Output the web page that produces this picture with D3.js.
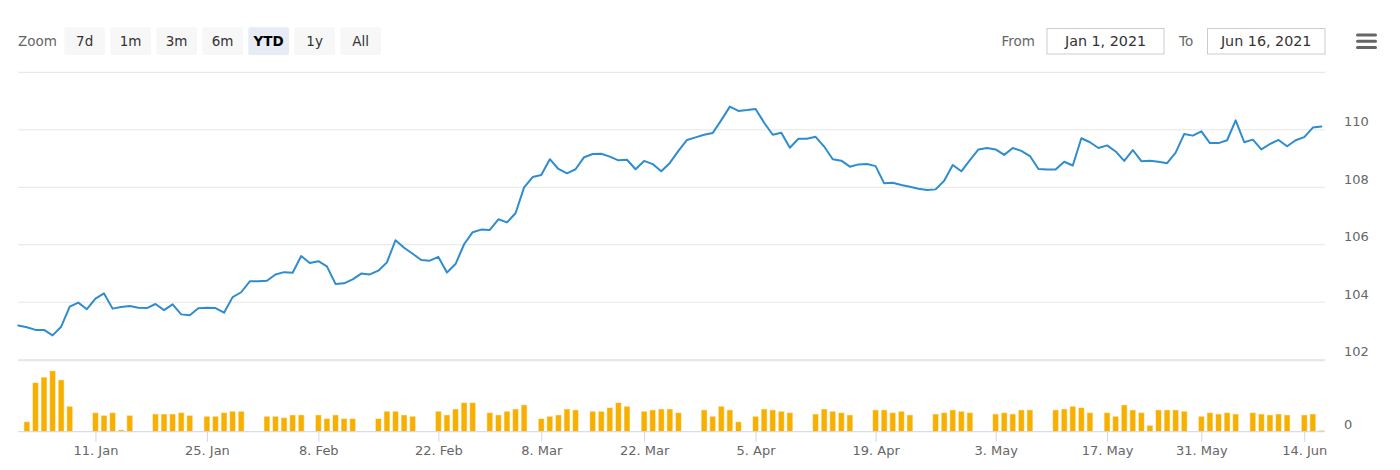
<!DOCTYPE html>
<html><head><meta charset="utf-8">
<script src="https://cdn.jsdelivr.net/npm/d3@7"></script>
<style>
body{margin:0;background:#fff}
svg{display:block}
text{font-family:"DejaVu Sans",sans-serif}
</style>
</head><body>
<svg id="c" width="1400" height="470"></svg>
<script>
// ---- data ----
const prices = [
103.17,103.11,103.02,103.02,102.83,103.13,103.83,103.97,103.74,104.11,
104.29,103.76,103.82,103.85,103.79,103.78,103.92,103.71,103.91,103.56,
103.53,103.77,103.79,103.78,103.62,104.16,104.33,104.71,104.71,104.73,
104.95,105.03,105.01,105.59,105.35,105.41,105.23,104.62,104.64,104.78,
104.98,104.95,105.08,105.37,106.14,105.88,105.67,105.45,105.43,105.56,
105.02,105.31,106.00,106.42,106.51,106.50,106.87,106.76,107.08,107.98,
108.34,108.41,108.96,108.62,108.47,108.61,109.03,109.14,109.15,109.05,
108.92,108.94,108.61,108.90,108.79,108.54,108.83,109.25,109.63,109.72,
109.81,109.87,110.32,110.79,110.64,110.67,110.71,110.23,109.81,109.88,
109.36,109.67,109.67,109.74,109.40,108.96,108.91,108.70,108.78,108.79,
108.72,108.12,108.14,108.06,108.00,107.93,107.89,107.91,108.21,108.76,
108.54,108.93,109.30,109.35,109.30,109.11,109.35,109.25,109.07,108.62,
108.60,108.60,108.87,108.74,109.69,109.55,109.35,109.44,109.23,108.90,
109.28,108.89,108.91,108.87,108.82,109.19,109.84,109.78,109.93,109.52,
109.52,109.62,110.31,109.55,109.64,109.30,109.49,109.63,109.41,109.62,
109.73,110.06,110.10
];
const volumes = [
null, 11,54,60,67,57,28, null,null,
21,18,21,2,18, null,null,
19.5,19.5,19.5,21,18, null,
17,17,21,22.5,22.5, null,null,
17,17,15.5,18.5,18.5, null,
18.5,14.5,18.5,14.5,14.5, null,null,
14.5,22.5,22.5,18.5,17, null,null,
22.5,18.5,25,32,32, null,
21,18.5,22.5,25,29.5, null,
14.5,17,18.5,25,24, null,
22.5,22.5,26.5,32,28, null,
22.5,24,25,25,21, null,null,
24,17,28,24,11, null,
17,25,24,22.5,21, null,null,
19.5,25,22.5,21,18.5, null,null,
24,24,21,22.5,18.5, null,null,
19.5,21,24,22.5,21, null,null,
19.5,21,19.5,24,24, null,null,
24,25,28,26.5,21, null,
21,17,29.5,24,21,7,24,24,24,22.5, null,
17,21,19.5,21,19.5, null,
21,19.5,18.5,19.5,18.5, null,
18.5,19.5,1.5
];
const tickIndex = [9,22,35,49,61,73,86,100,114,127,138,150];
const tickLabels = ["11. Jan","25. Jan","8. Feb","22. Feb","8. Mar","22. Mar","5. Apr","19. Apr","3. May","17. May","31. May","14. Jun"];
const priceTicks = [102,104,106,108,110,112];
const priceLabelTicks = [102,104,106,108,110];
const volumeTicks = [0];
const volumeMax = 78;
const zoomButtons = ["7d","1m","3m","6m","YTD","1y","All"];
const selectedButton = "YTD";
const rangeFrom = "Jan 1, 2021";
const rangeTo = "Jun 16, 2021";

// ---- layout ----
const svg = d3.select("#c");
const plotL = 18, plotR = 1325;
const x = d3.scaleLinear().domain([0, prices.length - 1]).range([18.3, 1321.4]);
const y = d3.scaleLinear().domain([102, 112]).range([359.2, 71.85]);
const yv = d3.scaleLinear().domain([0, volumeMax]).range([431.7, 360.7]);

svg.append("rect").attr("width",1400).attr("height",470).attr("fill","#fff");

// price grid + labels
const gy = svg.append("g").attr("transform",`translate(${plotL},0)`)
  .call(d3.axisRight(y).tickValues(priceTicks).tickSize(plotR-plotL).tickPadding(1344-plotR)
        .tickFormat(d => priceLabelTicks.includes(d) ? d : ""));
gy.select(".domain").remove();
gy.selectAll(".tick line").attr("stroke","#e6e6e6").attr("stroke-width",1);
gy.selectAll(".tick text").attr("fill","#666").attr("font-size","13px").attr("dy","-0.27em")
  .attr("font-family","DejaVu Sans, sans-serif");

// volume top grid line
svg.append("line").attr("x1",plotL).attr("x2",plotR)
  .attr("y1",yv(volumeMax)).attr("y2",yv(volumeMax)).attr("stroke","#e6e6e6").attr("stroke-width",1.3);

// volume axis label
const gv = svg.append("g").attr("transform",`translate(${plotR},0)`)
  .call(d3.axisRight(yv).tickValues(volumeTicks).tickSize(0).tickPadding(1344-plotR));
gv.select(".domain").remove();
gv.selectAll(".tick text").attr("fill","#666").attr("font-size","13px").attr("dy","-0.27em")
  .attr("font-family","DejaVu Sans, sans-serif");

// volume bars
svg.append("g").selectAll("rect")
  .data(volumes.map((v,i)=>({v,i})).filter(d => d.v !== null))
  .join("rect")
  .attr("x", d => x(d.i) - 3)
  .attr("width", 6)
  .attr("y", d => yv(d.v))
  .attr("height", d => yv(0) - yv(d.v))
  .attr("fill", "#f8b000")
  .attr("stroke", "rgba(255,255,255,0.55)")
  .attr("stroke-width", 1);

// x axis
const gx = svg.append("g").attr("transform",`translate(0,${yv(0)})`)
  .call(d3.axisBottom(x).tickValues(tickIndex).tickFormat((d,i)=>tickLabels[i]).tickSize(10).tickPadding(3.6));
gx.select(".domain").remove();
gx.selectAll(".tick line").attr("stroke","#ccd6eb");
gx.selectAll(".tick text").attr("fill","#666").attr("font-size","13px")
  .attr("font-family","DejaVu Sans, sans-serif");
svg.append("line").attr("x1",plotL).attr("x2",plotR).attr("y1",yv(0)).attr("y2",yv(0))
  .attr("stroke","#ccd6eb").attr("stroke-width",1);

// price line
svg.append("path").datum(prices)
  .attr("d", d3.line().x((d,i)=>x(i)).y(d=>y(d)))
  .attr("fill","none").attr("stroke","#2e8ccf").attr("stroke-width",2)
  .attr("stroke-linejoin","round").attr("stroke-linecap","round");

// range selector
const hdr = svg.append("g");
hdr.append("text").attr("x",18).attr("y",46).attr("fill","#666").attr("font-size","13.5px").text("Zoom");
const btn = hdr.selectAll("g.btn").data(zoomButtons).join("g").attr("class","btn")
  .attr("transform",(d,i)=>`translate(${64.3+46*i},27.3)`);
btn.append("rect").attr("width",40.7).attr("height",27.7).attr("rx",2)
  .attr("fill",d => d===selectedButton ? "#e6ebf5" : "#f7f7f7");
btn.append("text").attr("x",20.35).attr("y",18.7).attr("text-anchor","middle")
  .attr("font-size","13.5px")
  .attr("font-weight",d => d===selectedButton ? "bold" : "normal")
  .attr("fill",d => d===selectedButton ? "#000" : "#333")
  .text(d=>d);

hdr.append("text").attr("x",1001.5).attr("y",46).attr("fill","#666").attr("font-size","13.5px").text("From");
hdr.append("rect").attr("x",1047).attr("y",28.5).attr("width",117).attr("height",25.5)
  .attr("fill","#fff").attr("stroke","#cccccc").attr("stroke-width",1);
hdr.append("text").attr("x",1105.5).attr("y",46).attr("text-anchor","middle").attr("fill","#333")
  .attr("font-size","14.3px").text(rangeFrom);
hdr.append("text").attr("x",1179).attr("y",46).attr("fill","#666").attr("font-size","13.5px").text("To");
hdr.append("rect").attr("x",1207.5).attr("y",28.5).attr("width",117.5).attr("height",25.5)
  .attr("fill","#fff").attr("stroke","#cccccc").attr("stroke-width",1);
hdr.append("text").attr("x",1266.2).attr("y",46).attr("text-anchor","middle").attr("fill","#333")
  .attr("font-size","14.3px").text(rangeTo);

// menu icon
[35, 41.2, 47.6].forEach(yy => {
  hdr.append("line").attr("x1",1357.5).attr("x2",1375.5).attr("y1",yy).attr("y2",yy)
    .attr("stroke","#666").attr("stroke-width",3).attr("stroke-linecap","round");
});
</script>
</body></html>
